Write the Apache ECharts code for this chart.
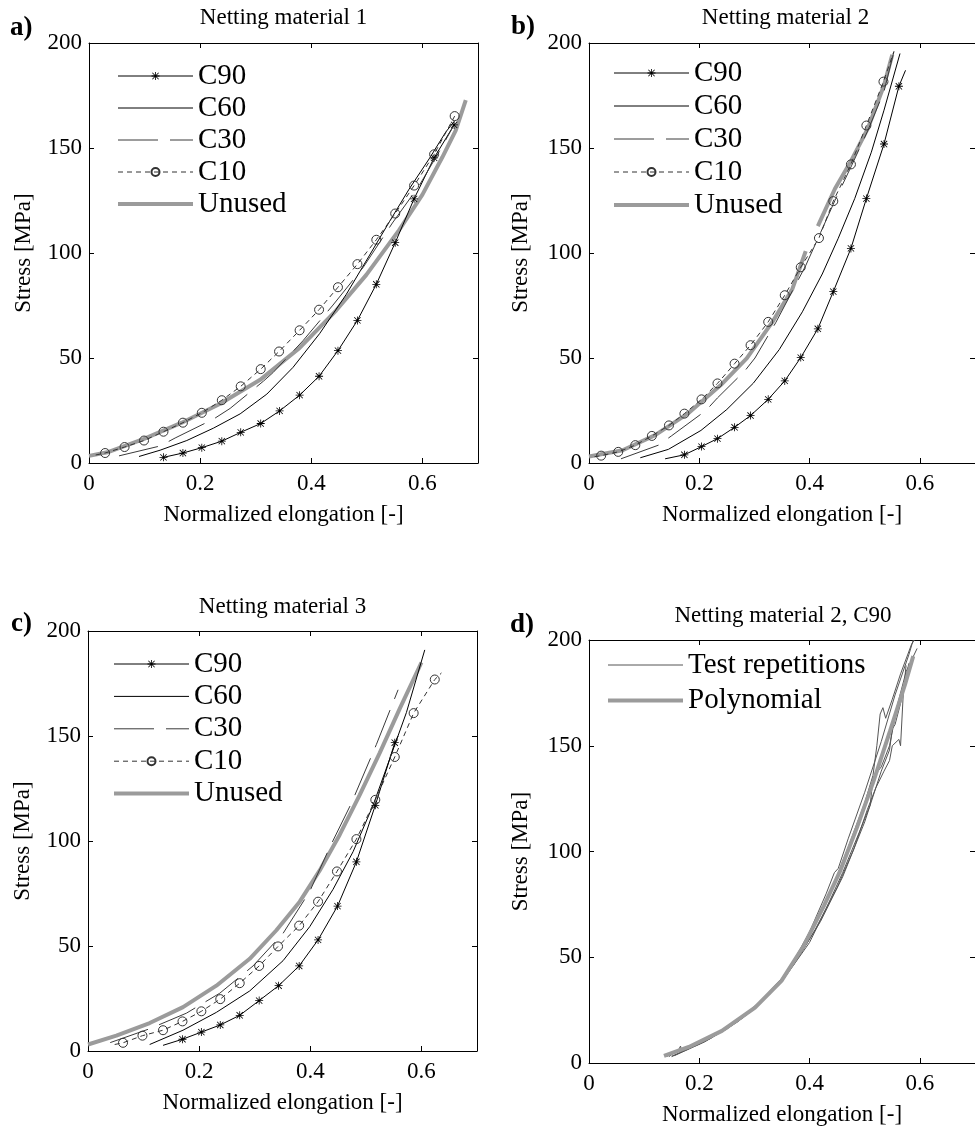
<!DOCTYPE html>
<html>
<head>
<meta charset="utf-8">
<script src="https://cdn.jsdelivr.net/npm/echarts@6/dist/echarts.min.js"></script>
<style>
  html, body { margin: 0; padding: 0; background: #fff; }
  #chart { width: 975px; height: 1130px; }
</style>
</head>
<body>
<div id="chart"></div>
<script>
// Stress–elongation curves of four netting tests.
// Each point is [normalized elongation, stress MPa]; a third entry 0 means "no marker here";
// null marks a break in the curve.

const X_TICKS = [0, 0.2, 0.4, 0.6];
const Y_TICKS = [0, 50, 100, 150, 200];

// a) Netting material 1
const A_UNUSED = [[0,3.4],[.033,5.1],[.099,11.5],[.167,19.2],[.236,28.2],[.308,39.6],[.379,54.8],[.445,72.7],[.499,89.6],[.558,110.9],[.600,127.8],[.636,145.7],[.660,158.4],[.678,172.8]];
const A_C90 = [[.134,2.7],[.169,4.75],[.203,7.3],[.239,10.4],[.273,14.6],[.309,18.8],[.343,24.8],[.379,32.3],[.414,41.3],[.448,53.5],[.483,67.9],[.517,85.1],[.551,104.9],[.585,125.8],[.621,145.3],[.657,161.0]];
const A_C60 = [[.090,3.1],[.128,6.1],[.176,10.7],[.224,16.6],[.272,23.4],[.320,32.8],[.367,45.5],[.415,61.6],[.463,80.3],[.505,99.0],[.541,115.1],[.576,130.4],[.612,144.8],[.642,157.6],[.657,162.6]];
const A_C30 = [[.054,3.4],[.128,8.1],[.155,11.9],[.224,20.9],[.254,26],[.314,39],[.331,43],[.385,58.2],[.439,75.2],[.493,93],[.546,114.3],[.594,132],[.630,148.2],[.657,161]];
const A_C10 = [[.012,3.8,0],[.029,4.75],[.064,7.6],[.099,10.7],[.134,14.9],[.169,19.2],[.203,23.9],[.239,29.9],[.273,36.5],[.309,44.7],[.342,53.1],[.379,63.2],[.414,73.0],[.448,83.7],[.483,94.7],[.517,106.3],[.551,118.8],[.585,132.1],[.621,147],[.658,165.2]];

// b) Netting material 2
const B_UNUSED = [[0,3.1],[.061,6.1],[.120,13.3],[.179,23.5],[.239,37.1],[.286,49.8],[.334,67.7],[.369,83],[.393,100.9],null,[.415,112.8],[.446,130.6],[.476,144.2],[.506,159.5],[.535,179.9],[.550,194.4]];
const B_C90 = [[.138,2,0],[.173,3.9],[.204,7.8],[.233,11.6],[.264,17],[.293,22.6],[.325,30.3],[.355,39.1],[.384,50.2],[.415,63.9],[.443,81.6],[.475,102.2],[.503,125.9],[.535,151.9],[.562,179.4],[.574,187,0]];
const B_C60 = [[.093,2.5],[.144,6.5],[.203,15.5],[.25,25.5],[.298,38],[.345,54],[.387,72],[.423,90],[.452,107],[.482,126],[.512,148],[.535,168],[.564,195]];
const B_C30 = [[.058,2],[.126,8.5],[.150,13],[.212,25],[.233,31],[.283,44],[.301,50],[.339,67],[.393,94],[.417,108],[.446,125],[.476,141.5],[.506,158.5],[.535,177],[.554,197]];
const B_C10 = [[.010,3,0],[.022,3.5],[.053,5.3],[.084,8.5],[.114,12.9],[.145,17.9],[.173,23.5],[.204,30.3],[.233,37.9],[.264,47.3],[.293,56.1],[.325,67.2],[.355,79.9],[.384,93.2],[.417,107.1],[.443,124.7],[.475,142.2],[.503,160.7],[.534,181.6],[.553,196,0]];

// c) Netting material 3
const C_UNUSED = [[0,3.1],[.051,7.3],[.111,13.3],[.171,20.9],[.231,31.1],[.291,43.9],[.339,57.5],[.381,71.1],[.417,86],[.453,103],[.489,122],[.525,142],[.561,163],[.600,185]];
const C_C90 = [[.135,2.7,0],[.170,5.6],[.204,9.0],[.238,12.4],[.273,17],[.308,24],[.343,31.1],[.380,40.5],[.414,52.9],[.449,69],[.483,90.1],[.517,117],[.552,146.8],[.558,150,0]];
const C_C60 = [[.111,3.1],[.171,9.9],[.231,18.4],[.291,28.6],[.351,43],[.399,59.2],[.441,77],[.477,94.9],[.513,117],[.543,139.1],[.573,161.2],[.606,191]];
const C_C30 = [[.04,4],[.11,10.5],[.177,18],[.237,27.5],[.297,40.5],[.351,56],[.399,76],[.435,97],[.474,118],[.519,146],[.558,172]];
const C_C10 = [[.048,3.1,0],[.063,3.9],[.098,7.3],[.135,9.9],[.170,14.1],[.204,18.9],[.238,24.7],[.273,32.3],[.308,40.5],[.342,49.8],[.380,59.7],[.414,71.1],[.448,85.5],[.483,100.9],[.517,119.6],[.552,140],[.586,160.9],[.624,176.9],[.636,180,0]];

// d) Netting material 2, C90: repeated tests and fitted polynomial
const D_POLY = [[.136,3.4],[.181,7.6],[.241,15.2],[.301,26.2],[.349,38.8],[.390,55.7],[.426,74.3],[.456,91.1],[.486,111.4],[.516,133.3],[.546,157],[.573,178.9],[.588,192.4]];
const D_REP1 = [[.145,3],[.163,6.5],[.166,8],[.168,5.5],[.20,9.5],[.25,16.5],[.30,26],[.35,39.5],[.40,60],[.44,82],[.47,102],[.50,123],[.515,136],[.522,150],[.528,165],[.533,168],[.538,163],[.55,172],[.565,184],[.585,198],[.59,200]];
const D_REP2 = [[.15,3.2],[.2,9],[.25,16],[.3,25.5],[.35,38.5],[.4,57],[.43,73],[.46,90],[.49,109],[.51,122],[.515,135],[.53,140],[.545,150],[.56,170],[.575,185],[.595,196]];
const D_REP3 = [[.14,3],[.2,9.5],[.26,18],[.31,29],[.36,43],[.40,62],[.43,80],[.445,90],[.452,92],[.47,106],[.50,128],[.53,152],[.555,174],[.58,193],[.588,200]];
const D_REP4 = [[.15,3],[.22,11.5],[.28,21.5],[.33,33],[.38,50],[.42,67],[.46,88],[.50,114],[.53,138],[.545,148],[.55,158],[.555,160],[.565,170],[.575,182],[.58,189]];
const D_REP5 = [[.155,3.5],[.21,10],[.27,19.5],[.32,30.5],[.37,46],[.41,63],[.45,83],[.48,101],[.505,120],[.52,130],[.535,138],[.545,143],[.55,150],[.562,153],[.565,150],[.57,175],[.575,188]];

const FONT = '"Liberation Serif", "Times New Roman", serif';
const STAR = 'path://M9 0L11 0L11 20L9 20Z M0 9L20 9L20 11L0 11Z M2.8 1.4L18.6 17.2L17.2 18.6L1.4 2.8Z M18.6 2.8L2.8 18.6L1.4 17.2L17.2 1.4Z';

const STYLE = {
  'Unused':           { color: '#9b9b9b', width: 4, type: 'solid' },
  'C90':              { color: '#000', width: 1, type: 'solid', symbol: STAR, symbolSize: 8, item: { color: '#000' } },
  'C60':              { color: '#000', width: 1, type: 'solid' },
  'C30':              { color: '#3a3a3a', width: 1, type: [40, 12] },
  'C10':              { color: '#333', width: 1, type: [5, 4], symbol: 'circle', symbolSize: 9,
                        item: { color: 'rgba(0,0,0,0)', borderColor: '#333', borderWidth: 1 } },
  'Test repetitions': { color: '#555', width: 1, type: 'solid' },
  'Polynomial':       { color: '#9b9b9b', width: 4, type: 'solid' }
};

const GRIDS = [
  { left: 89,  top: 43,  width: 389, height: 420 },
  { left: 589, top: 43,  width: 393, height: 420 },
  { left: 88,  top: 631, width: 389, height: 420 },
  { left: 589, top: 640, width: 390, height: 423 }
];

function toData(arr) {
  return arr.map((p, i) => {
    if (p === null) return [arr[i - 1][0], '-'];
    if (p[2] === 0) return { value: [p[0], p[1]], symbol: 'none' };
    return [p[0], p[1]];
  });
}

function line(name, arr, gi) {
  const st = STYLE[name];
  return {
    type: 'line', name, xAxisIndex: 2 * gi, yAxisIndex: 2 * gi,
    data: toData(arr),
    symbol: st.symbol || 'none', symbolSize: st.symbolSize || 0,
    showAllSymbol: true, connectNulls: false, silent: true,
    lineStyle: { color: st.color, width: st.width, type: st.type },
    itemStyle: st.item || { color: st.color }
  };
}

const series = [
  line('Unused', A_UNUSED, 0), line('C90', A_C90, 0), line('C60', A_C60, 0), line('C30', A_C30, 0), line('C10', A_C10, 0),
  line('Unused', B_UNUSED, 1), line('C90', B_C90, 1), line('C60', B_C60, 1), line('C30', B_C30, 1), line('C10', B_C10, 1),
  line('Unused', C_UNUSED, 2), line('C90', C_C90, 2), line('C60', C_C60, 2), line('C30', C_C30, 2), line('C10', C_C10, 2),
  line('Test repetitions', D_REP1, 3), line('Test repetitions', D_REP2, 3), line('Test repetitions', D_REP3, 3),
  line('Test repetitions', D_REP4, 3), line('Test repetitions', D_REP5, 3), line('Polynomial', D_POLY, 3)
];

const axisLineStyle = { show: true, onZero: false, lineStyle: { color: '#000', width: 1 } };
const tickStyle = { show: true, inside: true, length: 5, lineStyle: { color: '#000', width: 1 } };
const labelFont = { fontFamily: FONT, fontSize: 23, color: '#000' };

const xAxis = [], yAxis = [];
GRIDS.forEach((g, i) => {
  const xr = { min: X_TICKS[0], max: 0.7, interval: X_TICKS[1] - X_TICKS[0] };
  const yr = { min: Y_TICKS[0], max: Y_TICKS[Y_TICKS.length - 1], interval: Y_TICKS[1] - Y_TICKS[0] };
  xAxis.push({
    type: 'value', gridIndex: i, position: 'bottom', ...xr,
    axisLine: axisLineStyle, axisTick: tickStyle, splitLine: { show: false },
    axisLabel: { ...labelFont, margin: 9, showMaxLabel: false },
    name: 'Normalized elongation [-]', nameLocation: 'middle', nameGap: 40,
    nameTextStyle: { ...labelFont }
  });
  xAxis.push({
    type: 'value', gridIndex: i, position: 'top', ...xr,
    axisLine: axisLineStyle, axisTick: tickStyle, splitLine: { show: false },
    axisLabel: { show: false }
  });
  yAxis.push({
    type: 'value', gridIndex: i, position: 'left', ...yr,
    axisLine: axisLineStyle, axisTick: tickStyle, splitLine: { show: false },
    axisLabel: { ...labelFont, margin: 7 },
    name: 'Stress [MPa]', nameLocation: 'middle', nameRotate: 90,
    nameGap: (i % 2 === 0) ? 54 : 57,
    nameTextStyle: { ...labelFont }
  });
  yAxis.push({
    type: 'value', gridIndex: i, position: 'right', ...yr,
    axisLine: axisLineStyle, axisTick: tickStyle, splitLine: { show: false },
    axisLabel: { show: false }
  });
});

// Legend entries: lines without markers get an invisible icon symbol.
const HIDE_SYMBOL = { color: 'rgba(0,0,0,0)', borderColor: 'rgba(0,0,0,0)', borderWidth: 0 };
function legendItem(name) {
  const st = STYLE[name];
  const item = { name, lineStyle: { color: st.color, width: st.width, type: st.type } };
  if (!st.symbol) item.itemStyle = HIDE_SYMBOL;
  return item;
}
const LEGEND_A = ['C90', 'C60', 'C30', 'C10', 'Unused'];
const LEGEND_D = ['Test repetitions', 'Polynomial'];
function legend(names, left, top, gap) {
  return {
    data: names.map(legendItem), left, top, orient: 'vertical', itemGap: gap,
    itemWidth: 75, itemHeight: 10, selectedMode: false, padding: 0,
    textStyle: { fontFamily: FONT, fontSize: 29, lineHeight: 30, color: '#000' }
  };
}

function text(str, x, y, font, align) {
  return { type: 'text', x, y, silent: true,
    style: { text: str, font, fill: '#000', align, verticalAlign: 'middle' } };
}
const TITLE_FONT = '23px ' + FONT;
const TAG_FONT = 'bold 27px ' + FONT;

const option = {
  animation: false,
  backgroundColor: '#fff',
  grid: GRIDS,
  xAxis, yAxis, series,
  legend: [
    legend(LEGEND_A, 116, 61, 2),
    legend(LEGEND_A, 612, 58, 3),
    legend(LEGEND_A, 112, 649, 2.4),
    legend(LEGEND_D, 606, 650, 5.4)
  ],
  graphic: [
    text('a)', 10, 28, TAG_FONT, 'left'),
    text('b)', 511, 27, TAG_FONT, 'left'),
    text('c)', 11, 624, TAG_FONT, 'left'),
    text('d)', 510, 625, TAG_FONT, 'left'),
    text('Netting material 1', 283.5, 18, TITLE_FONT, 'center'),
    text('Netting material 2', 785.5, 18, TITLE_FONT, 'center'),
    text('Netting material 3', 282.5, 607, TITLE_FONT, 'center'),
    text('Netting material 2, C90', 783, 616, TITLE_FONT, 'center')
  ]
};

const chart = echarts.init(document.getElementById('chart'), null, { renderer: 'canvas' });
chart.setOption(option);
</script>
</body>
</html>
